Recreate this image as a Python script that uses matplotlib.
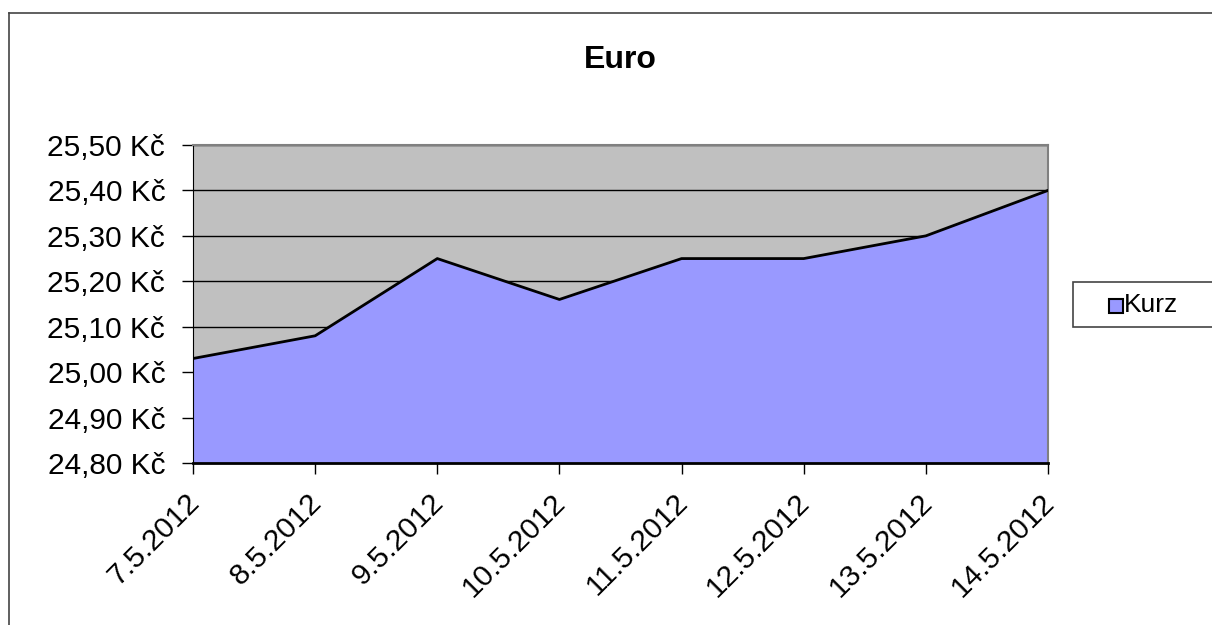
import matplotlib
matplotlib.use("Agg")
import matplotlib.pyplot as plt
from matplotlib.patches import Rectangle
from matplotlib.transforms import ScaledTranslation
import numpy as np

plt.rcParams['font.family'] = ['Liberation Sans', 'DejaVu Sans']

dates = ['7.5.2012', '8.5.2012', '9.5.2012', '10.5.2012',
         '11.5.2012', '12.5.2012', '13.5.2012', '14.5.2012']
kurz = [25.03, 25.08, 25.25, 25.16, 25.25, 25.25, 25.30, 25.40]
y_ticks = [24.80, 24.90, 25.00, 25.10, 25.20, 25.30, 25.40, 25.50]

fig = plt.figure(figsize=(12.12, 6.25), dpi=100)

# outer chart border (top and left visible)
fig.add_artist(plt.Line2D([9/1212, 1], [1 - 13/625, 1 - 13/625], color='#444444', lw=1.2))
fig.add_artist(plt.Line2D([9/1212, 9/1212], [0, 1 - 13/625], color='#444444', lw=1.2))

ax = fig.add_axes([193/1212, 1 - 463/625, (1048 - 193)/1212, (463 - 145)/625])
ax.set_facecolor('#C0C0C0')

x = np.arange(len(dates))
ax.fill_between(x, y_ticks[0], kurz, color='#9999FF', zorder=2)
ax.plot(x, kurz, color='black', lw=2, zorder=3)

ax.set_xlim(x[0], x[-1])
ax.set_ylim(y_ticks[0], y_ticks[-1])
ax.set_yticks(y_ticks)
ax.set_yticklabels([('%.2f Kč' % v).replace('.', ',') for v in y_ticks], fontsize=21.5)
ax.yaxis.grid(True, color='black', lw=1, zorder=1)
ax.set_axisbelow(True)
ax.set_xticks(x)
ax.set_xticklabels(dates, rotation=45, ha='right', va='top', rotation_mode='anchor', fontsize=21.5)
ax.tick_params(axis='both', direction='out', length=8, color='black', width=1)
ax.tick_params(axis='x', pad=10)
ax.tick_params(axis='y', pad=12)

# nudge the date labels a little left
shift = ScaledTranslation(-8/100, 0, fig.dpi_scale_trans)
for lab in ax.get_xticklabels():
    lab.set_transform(lab.get_transform() + shift)

for side in ['top', 'right']:
    ax.spines[side].set_color('#808080')
    ax.spines[side].set_linewidth(1.5)
ax.spines['left'].set_color('black')
ax.spines['bottom'].set_color('black')
ax.spines['bottom'].set_linewidth(2)
ax.spines['top'].set_zorder(4)

fig.text(620/1212, 1 - 60/625, 'Euro', ha='center', va='center', fontsize=23, fontweight='bold')

# legend box
fig.add_artist(Rectangle((1073/1212, 1 - 327/625), (1214 - 1073)/1212, 45/625,
                         transform=fig.transFigure, facecolor='white', edgecolor='#444444', lw=1.2))
fig.add_artist(Rectangle((1109/1212, 1 - 313/625), 14/1212, 14/625,
                         transform=fig.transFigure, facecolor='#9999FF', edgecolor='black', lw=1.5))
fig.text(1124/1212, 1 - 305/625, 'Kurz', ha='left', va='center', fontsize=19)

fig.savefig('out.png', dpi=100)
